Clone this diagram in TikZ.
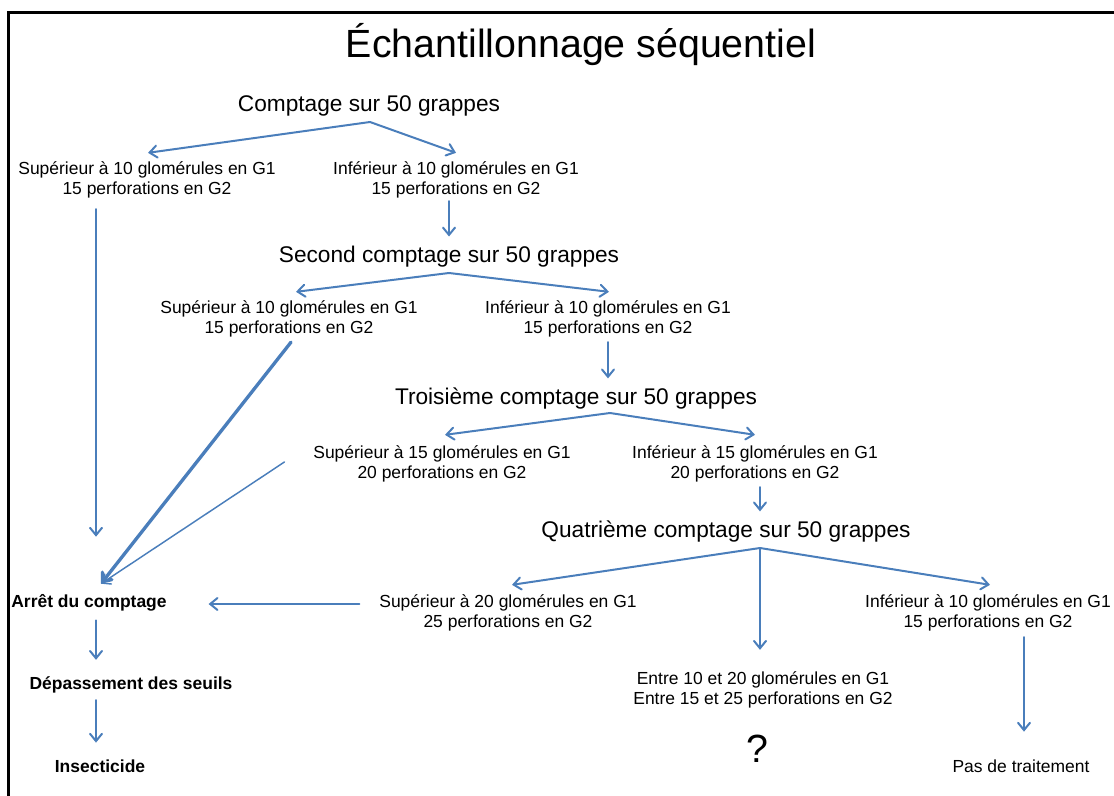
\documentclass[tikz,border=0pt]{standalone}
\usepackage{fontspec}
\setmainfont{Liberation Sans}
\usetikzlibrary{positioning, arrows.meta, calc}
\definecolor{bleufl}{RGB}{74,126,187}

\tikzset{
  fl/.style={draw=bleufl, line width=1.5pt, line cap=round, -{Straight Barb[length=5.5pt,width=9pt,line cap=round]}},
  cond/.style={align=center, inner sep=2pt, font=\fontsize{13.1}{15}\selectfont},
  cpt/.style={inner sep=2pt, font=\fontsize{17}{20}\selectfont},
  fin/.style={inner sep=2pt, font=\fontsize{13.1}{15}\selectfont\bfseries},
}

\begin{document}
\begin{tikzpicture}[x=0.75pt, y=-0.75pt]
        \useasboundingbox (0,0) rectangle (1114,796);
        \draw[line width=2.25pt] (8,796) -- (8,12) -- (1114,12);

        \node[font=\fontsize{29.5}{34}\selectfont] (titre) at (581,45) {Échantillonnage séquentiel};

        % premier comptage
        \node[cpt] (c1) at (369,106) {Comptage sur 50 grappes};
        \node[cond] (s1) at (147,180) {Supérieur à 10 glomérules en G1\\15 perforations en G2};
        \node[cond] (i1) at (456,180) {Inférieur à 10 glomérules en G1\\15 perforations en G2};

        % second comptage
        \node[cpt] (c2) at (449,257) {Second comptage sur 50 grappes};
        \node[cond] (s2) at (289,319) {Supérieur à 10 glomérules en G1\\15 perforations en G2};
        \node[cond] (i2) at (608,319) {Inférieur à 10 glomérules en G1\\15 perforations en G2};

        % troisieme comptage
        \node[cpt] (c3) at (576,399) {Troisième comptage sur 50 grappes};
        \node[cond] (s3) at (442,464) {Supérieur à 15 glomérules en G1\\20 perforations en G2};
        \node[cond] (i3) at (755,464) {Inférieur à 15 glomérules en G1\\20 perforations en G2};

        % quatrieme comptage
        \node[cpt] (c4) at (726,532) {Quatrième comptage sur 50 grappes};
        \node[cond] (s4) at (508,613) {Supérieur à 20 glomérules en G1\\25 perforations en G2};
        \node[cond] (i4) at (988,613) {Inférieur à 10 glomérules en G1\\15 perforations en G2};
        \node[cond] (e4) at (763,690) {Entre 10 et 20 glomérules en G1\\Entre 15 et 25 perforations en G2};
        \node[font=\fontsize{29.5}{34}\selectfont] (q) at (757,749) {?};
        \node[cond] (pas) at (1021,766) {Pas de traitement};

        % sorties
        \node[fin] (arret) at (89,603) {Arrêt du comptage};
        \node[fin] (dep) at (131,685) {Dépassement des seuils};
        \node[fin] (ins) at (100,766) {Insecticide};

        \coordinate (b1) at (370,122);
        \coordinate (b2) at (449,273);
        \coordinate (b3) at (610,413);
        \coordinate (b4) at (760,548);

        \draw[fl] (b1) -- ($(s1.north)+(1,-6)$);
        \draw[fl] (b1) -- ($(i1.north)+(0,-6)$);
        \draw[fl] ($(i1.south -| c2.north)+(0,0)$) -- ($(c2.north)+(0,-7)$);
        \draw[fl] ($(s1.south -| arret.north)+(7,8)$) -- ($(arret.north)+(7,-55)$);

        \draw[fl] (b2) -- ($(s2.north)+(7,-6)$);
        \draw[fl] (b2) -- ($(i2.north)+(1,-6)$);
        \draw[fl] ($(i2.south)+(0,2)$) -- ($(i2.south |- c3.north)+(0,-7)$);
        \draw[fl, line width=2.5pt] ($(s2.south)+(2,2)$) -- ($(arret.north)+(12,-8)$);
        \draw[fl, line width=1.1pt] ($(s3.west)+(-26,-2)$) -- ($(arret.north)+(12,-8)$);

        \draw[fl] (b3) -- ($(s3.north)+(3,-8)$);
        \draw[fl] (b3) -- ($(i3.north)+(0,-8)$);
        \draw[fl] ($(i3.south)+(5,2)$) -- ($(i3.south |- c4.north)+(5,-7)$);

        \draw[fl] (b4) -- ($(s4.north)+(4,-7)$);
        \draw[fl] (b4) -- ($(e4.north)+(-3,-19)$);
        \draw[fl] (b4) -- ($(i4.north)+(2,-7)$);
        \draw[fl] ($(s4.west)+(-17,-9)$) -- ($(arret.east)+(39,1)$);
        \draw[fl] ($(pas.north |- i4.south)+(3,3)$) -- ($(pas.north)+(3,-25)$);

        \draw[fl] ($(arret.south)+(7,6)$) -- ($(arret.south |- dep.north)+(7,-14)$);
        \draw[fl] ($(dep.south -| arret.south)+(7,4)$) -- ($(arret.south |- ins.north)+(7,-14)$);
    \end{tikzpicture}
\end{document}
